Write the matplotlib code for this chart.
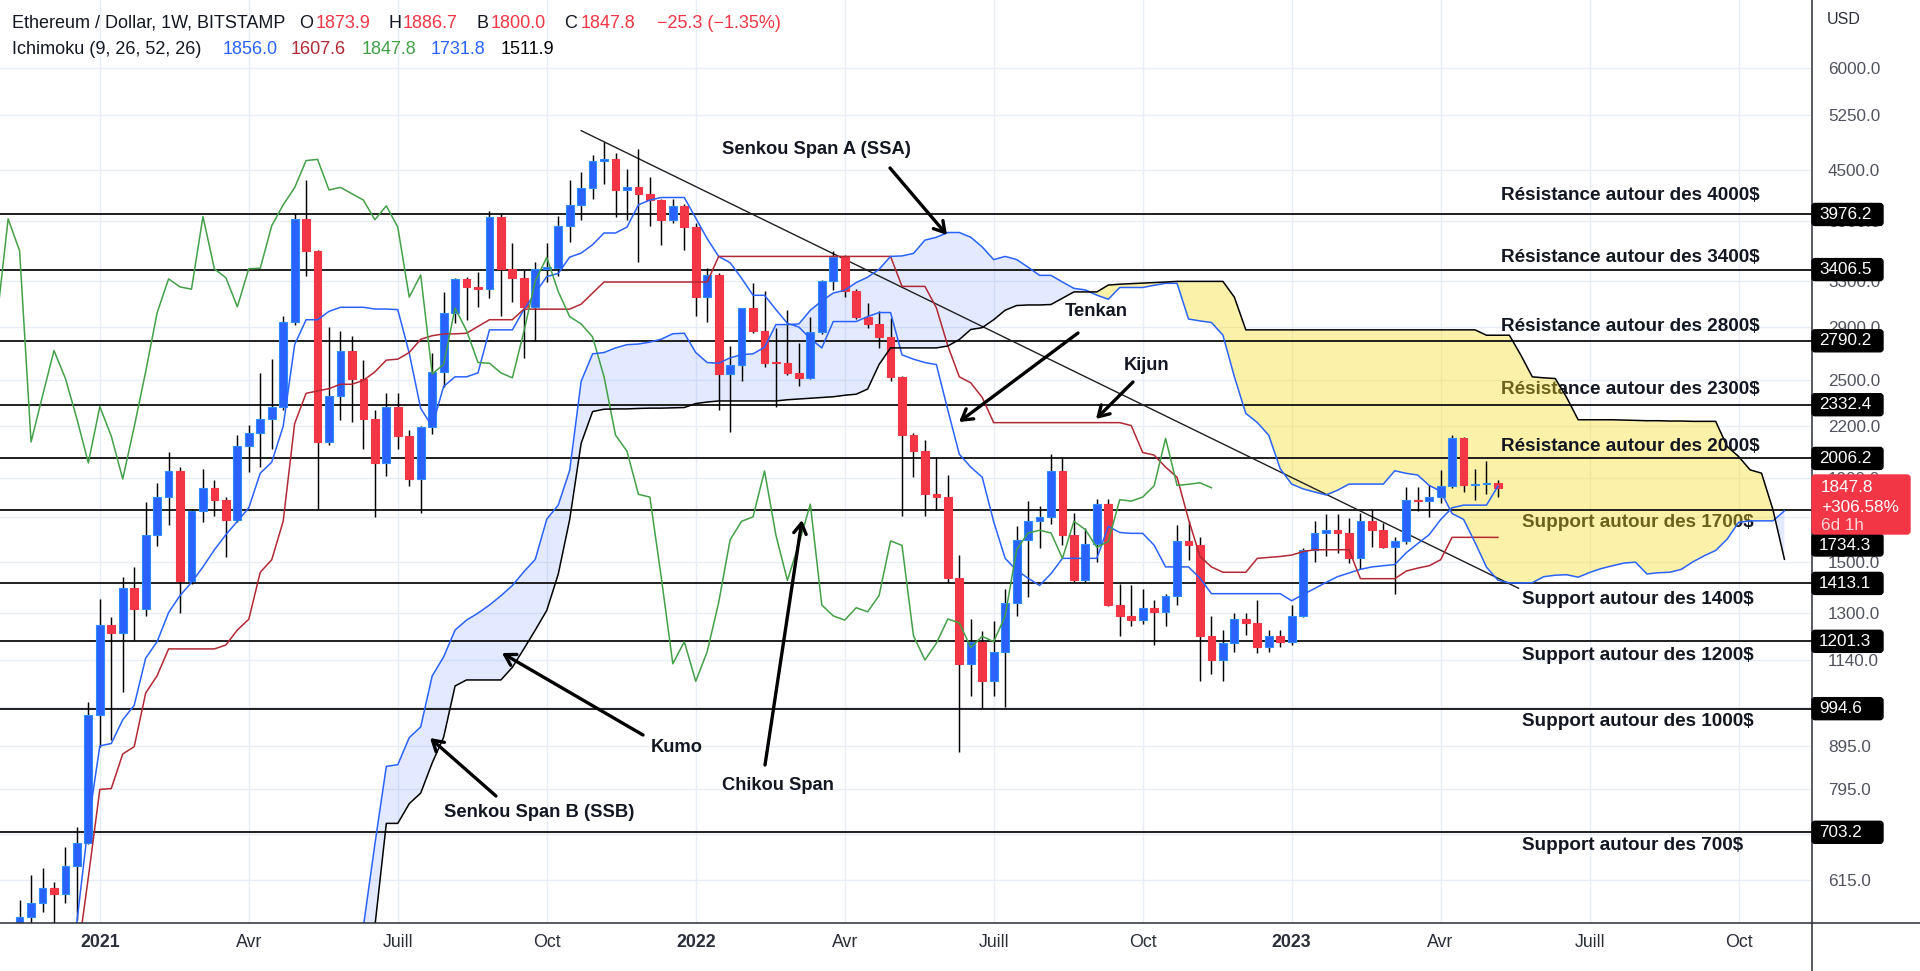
import numpy as np
import pandas as pd
import matplotlib
matplotlib.use('Agg')
import matplotlib.pyplot as plt
from matplotlib import transforms
from matplotlib.patches import FancyBboxPatch
from matplotlib.lines import Line2D
from matplotlib.ticker import FixedLocator, NullLocator, FixedFormatter

plt.rcParams['font.family'] = ['Liberation Sans', 'DejaVu Sans']

W, H = 1920, 971
START = pd.Timestamp('2020-11-16')   # first weekly candle on screen

# ---------------- weekly OHLC (ETH/USD, BITSTAMP, 1W) ----------------
OPEN = [460, 555, 577, 601, 591, 639, 682, 977, 1257, 1230,
        1395, 1315, 1620, 1803, 1937, 1423, 1729, 1848, 1787, 1690,
        2075, 2155, 2242, 2318, 2944, 3928, 3590, 2101, 2391, 2715,
        2510, 2242, 1981, 2320, 2136, 1894, 2192, 2558, 3018, 3319,
        3245, 3225, 3953, 3413, 3330, 3069, 3415, 3420, 3852, 4085,
        4287, 4625, 4640, 4259, 4290, 4214, 4140, 3918, 4073, 3838,
        3154, 3356, 2543, 2610, 3058, 2871, 2625, 2620, 2550, 2515,
        2863, 3300, 3525, 3204, 2986, 2925, 2820, 2522, 2142, 2047,
        1814, 1800, 1434, 1128, 1200, 1074, 1167, 1339, 1597, 1682,
        1703, 1937, 1617, 1425, 1579, 1765, 1330, 1290, 1275, 1320,
        1305, 1366, 1592, 1572, 1220, 1140, 1195, 1279, 1265, 1181,
        1218, 1200, 1290, 1553, 1628, 1640, 1628, 1516, 1682, 1643,
        1563, 1590, 1787, 1780, 1800, 1858, 2122, 1860, 1866, 1873.9]
HIGH = [582, 624, 636, 612, 675, 714, 1014, 1353, 1286, 1439,
        1480, 1773, 1874, 2040, 1960, 1740, 1945, 1889, 1800, 2140,
        2205, 2550, 2652, 2990, 3995, 4380, 3600, 2900, 2870, 2830,
        2643, 2300, 2408, 2410, 2175, 2200, 2700, 3195, 3330, 3340,
        3387, 4020, 3990, 3675, 3400, 3480, 3675, 3963, 4380, 4480,
        4700, 4878, 4730, 4520, 4780, 4420, 4150, 4150, 4100, 3880,
        3420, 3370, 2750, 3060, 3280, 3205, 2890, 3045, 2775, 2986,
        3310, 3586, 3550, 3225, 3100, 3030, 2975, 2530, 2155, 2110,
        2017, 1915, 1530, 1280, 1235, 1270, 1390, 1660, 1780, 1755,
        2030, 2017, 1720, 1650, 1790, 1790, 1410, 1406, 1390, 1350,
        1372, 1664, 1682, 1610, 1290, 1240, 1300, 1300, 1350, 1240,
        1240, 1330, 1560, 1682, 1715, 1715, 1697, 1720, 1740, 1675,
        1610, 1853, 1853, 1862, 1943, 2140, 2130, 1945, 1992, 1886.7]
LOW = [445, 480, 562, 530, 577, 550, 680, 894, 911, 1043,
       1206, 1290, 1568, 1666, 1300, 1410, 1680, 1709, 1522, 1680,
       1933, 1960, 2060, 2300, 2920, 3347, 1739, 2085, 2235, 2220,
       2060, 1700, 1910, 2060, 1855, 1720, 2150, 2450, 2930, 2960,
       3070, 3150, 2990, 3115, 2662, 2792, 3290, 3350, 3680, 3920,
       4150, 4330, 3950, 3920, 3478, 3850, 3650, 3880, 3600, 2995,
       2945, 2300, 2160, 2490, 2850, 2590, 2320, 2535, 2455, 2510,
       2840, 3220, 3155, 2965, 2890, 2735, 2495, 1706, 1906, 1706,
       1737, 1420, 882, 1030, 997, 1030, 1000, 1290, 1360, 1560,
       1670, 1573, 1420, 1420, 1500, 1325, 1218, 1255, 1260, 1190,
       1255, 1330, 1508, 1075, 1095, 1075, 1165, 1222, 1162, 1165,
       1181, 1190, 1285, 1500, 1525, 1540, 1495, 1470, 1563, 1560,
       1373, 1580, 1730, 1700, 1770, 1849, 1827, 1787, 1814, 1800.0]
CLOSE = [555, 577, 601, 591, 639, 682, 977, 1257, 1230, 1395,
         1315, 1620, 1803, 1937, 1423, 1729, 1848, 1787, 1690, 2075,
         2155, 2242, 2318, 2944, 3928, 3590, 2101, 2391, 2715, 2510,
         2242, 1981, 2320, 2136, 1894, 2192, 2558, 3018, 3319, 3245,
         3225, 3953, 3413, 3330, 3069, 3415, 3420, 3852, 4085, 4287,
         4625, 4640, 4259, 4290, 4214, 4140, 3918, 4073, 3838, 3154,
         3356, 2543, 2610, 3058, 2871, 2625, 2620, 2550, 2515, 2863,
         3300, 3525, 3204, 2986, 2925, 2820, 2522, 2142, 2047, 1814,
         1800, 1434, 1128, 1200, 1074, 1167, 1339, 1597, 1682, 1703,
         1937, 1617, 1425, 1579, 1765, 1330, 1290, 1275, 1320, 1305,
         1366, 1592, 1572, 1220, 1140, 1195, 1279, 1265, 1181, 1218,
         1200, 1290, 1553, 1628, 1640, 1628, 1516, 1682, 1643, 1563,
         1590, 1787, 1780, 1800, 1858, 2122, 1860, 1866, 1873.9, 1847.8]

# ---------------- Ichimoku lines (weekly) ----------------
TENKAN_START = 4
TENKAN = [480, 547, 720, 896, 902, 964, 1004, 1146, 1200, 1302,
          1366, 1417, 1480, 1553, 1620, 1682, 1747, 1925, 1985, 2195,
          2760, 2960, 2960, 3030, 3065, 3065, 3065, 3050, 3050, 3045,
          2695, 2308, 2195, 2455, 2522, 2522, 2550, 2877, 2877, 2877,
          3045, 3190, 3340, 3370, 3528, 3568, 3653, 3775, 3775, 3838,
          4085, 4140, 4170, 4170, 4170, 3936, 3715, 3535, 3473, 3325,
          3170, 3170, 3045, 2930, 2900, 2807, 2735, 2945, 2945, 2945,
          2986, 3020, 3020, 2682, 2650, 2625, 2610, 2297, 2030, 1958,
          1903, 1680, 1516, 1466, 1434, 1405, 1452, 1516, 1516, 1516,
          1516, 1658, 1630, 1626, 1626, 1573, 1480, 1480, 1480, 1434,
          1373, 1373, 1373, 1373, 1373, 1373, 1373, 1346, 1370, 1393,
          1417, 1440, 1455, 1470, 1480, 1485, 1490, 1540, 1580, 1620,
          1690, 1747, 1760, 1760, 1760, 1856.0]
KIJUN_START = 5
KIJUN = [490, 620, 793, 795, 876, 894, 1039, 1091, 1176, 1176,
         1176, 1176, 1176, 1189, 1240, 1278, 1458, 1510, 1682, 2212,
         2408, 2424, 2440, 2470, 2470, 2497, 2557, 2643, 2650, 2700,
         2802, 2830, 2845, 2845, 2850, 2905, 2960, 2960, 2960, 3049,
         3049, 3049, 3049, 3049, 3092, 3190, 3290, 3290, 3290, 3290,
         3290, 3290, 3290, 3290, 3290, 3290, 3535, 3535, 3535, 3535,
         3535, 3535, 3535, 3535, 3535, 3535, 3535, 3535, 3535, 3535,
         3535, 3535, 3250, 3250, 3250, 3060, 2750, 2522, 2480, 2380,
         2218, 2218, 2218, 2218, 2218, 2218, 2218, 2218, 2218, 2218,
         2218, 2218, 2200, 2040, 2025, 1958, 1903, 1691, 1524, 1480,
         1458, 1458, 1458, 1516, 1520, 1524, 1530, 1545, 1553, 1553,
         1553, 1553, 1432, 1432, 1432, 1432, 1463, 1475, 1485, 1510,
         1608, 1608, 1608, 1608, 1607.6]
CLOUD_START = 30
SSA = [540, 680, 846, 850, 917, 945, 1090, 1150, 1240, 1275,
       1300, 1330, 1365, 1405, 1460, 1512, 1692, 1760, 1940, 2490,
       2690, 2700, 2735, 2760, 2765, 2780, 2803, 2846, 2850, 2700,
       2625, 2620, 2660, 2684, 2690, 2740, 2920, 2920, 2925, 3040,
       3120, 3190, 3215, 3285, 3335, 3410, 3535, 3540, 3565, 3700,
       3730, 3780, 3780, 3730, 3630, 3503, 3535, 3504, 3430, 3352,
       3352, 3290, 3232, 3218, 3171, 3135, 3240, 3240, 3240, 3260,
       3278, 3278, 2966, 2950, 2937, 2835, 2523, 2276, 2219, 2141,
       1949, 1867, 1842, 1826, 1811, 1835, 1867, 1867, 1867, 1867,
       1938, 1924, 1915, 1860, 1830, 1719, 1691, 1585, 1479, 1426,
       1415, 1415, 1416, 1440, 1446, 1448, 1438, 1457, 1473, 1485,
       1496, 1500, 1451, 1456, 1458, 1470, 1501, 1527, 1550, 1600,
       1677, 1684, 1684, 1684, 1731.8]
SSB = [480, 540, 721, 721, 762, 785, 854, 918, 1060, 1078,
       1078, 1078, 1078, 1117, 1176, 1240, 1310, 1450, 1690, 2093,
       2288, 2303, 2305, 2305, 2308, 2310, 2310, 2312, 2314, 2340,
       2350, 2357, 2357, 2357, 2357, 2357, 2357, 2365, 2370, 2375,
       2380, 2385, 2395, 2402, 2437, 2611, 2735, 2735, 2735, 2735,
       2735, 2750, 2800, 2880, 2895, 2960, 3040, 3080, 3085, 3085,
       3089, 3144, 3200, 3200, 3200, 3262, 3270, 3275, 3280, 3285,
       3290, 3296, 3296, 3296, 3296, 3296, 3153, 2877, 2877, 2877,
       2877, 2877, 2877, 2877, 2877, 2877, 2877, 2877, 2877, 2877,
       2877, 2877, 2877, 2877, 2877, 2877, 2877, 2877, 2834, 2834,
       2834, 2680, 2522, 2515, 2510, 2380, 2236, 2236, 2236, 2236,
       2234, 2232, 2230, 2230, 2228, 2228, 2226, 2226, 2226, 2075,
       2017, 1943, 1925, 1737, 1511.9]
CHIKOU_SHIFT = 25
CHIKOU_FROM = 23

# ---------------- drawings ----------------
LEVELS = [3976.2, 3406.5, 2790.2, 2332.4, 2006.2, 1734.3, 1413.1, 1201.3, 994.6, 703.2]
LABEL_NUDGE = {1734.3: 545}      # axis label pushed below the last-price tag (pixel y)
TREND_X = [49.0, 130.8]          # week index
TREND_Y = [5030, 1394]
YTICKS = [6000, 5250, 4500, 3900, 3300, 2900, 2500, 2200, 1900, 1700,
          1500, 1300, 1140, 1000, 895, 795, 700, 615]
YTICK_HIDDEN = [1700, 700]       # fully covered by tags in the reference
XTICK_DATES = ['2021-01-04', '2021-04-05', '2021-07-05', '2021-10-04',
               '2022-01-03', '2022-04-04', '2022-07-04', '2022-10-03',
               '2023-01-02', '2023-04-03', '2023-07-03', '2023-10-02']
XTICK_LABELS = ['2021', 'Avr', 'Juill', 'Oct', '2022', 'Avr', 'Juill', 'Oct',
                '2023', 'Avr', 'Juill', 'Oct']
SR_TEXTS = ['Résistance autour des 4000$', 'Résistance autour des 3400$',
            'Résistance autour des 2800$', 'Résistance autour des 2300$',
            'Résistance autour des 2000$', 'Support autour des 1700$',
            'Support autour des 1400$', 'Support autour des 1200$',
            'Support autour des 1000$', 'Support autour des 700$']
SR_POS = [(1501, 196), (1501, 257), (1501, 326), (1501, 389), (1501, 446),
          (1522, 522), (1522, 599), (1522, 655), (1522, 721), (1522, 845)]
SR_UNDER = [False, False, False, True, False, True, False, False, False, False]
ANNOTS = [("Senkou Span A (SSA)", (816, 150), (890, 168), (947, 235)),
          ("Tenkan", (1096, 311), (1078, 333), (959, 422)),
          ("Kijun", (1147, 365), (1133, 382), (1096, 419)),
          ("Kumo", (677, 747), (643, 735), (502, 653)),
          ("Chikou Span", (778, 786), (765, 765), (802, 520)),
          ("Senkou Span B (SSB)", (539, 812), (496, 796), (430, 738))]

# colours
UP, DOWN = '#2962ff', '#f23645'
C_TENKAN, C_KIJUN, C_CHIKOU, C_SSA, C_SSB = '#2962ff', '#b22833', '#43a047', '#2962ff', '#000000'

# ---------------- figure ----------------
fig = plt.figure(figsize=(W / 100, H / 100), dpi=100)
fig.patch.set_facecolor('white')
ax = fig.add_axes([0, 48 / H, 1812 / W, 923 / H])
ax.set_facecolor('white')
ax.set_yscale('log')
ax.set_xlim(-19.6 / 11.46, (1812 - 19.6) / 11.46)
ax.set_ylim(545.3, 7255)
for s in ax.spines.values():
    s.set_visible(False)


def wk(d):
    return (pd.Timestamp(d) - START).days / 7.0


xt = [wk(d) for d in XTICK_DATES]
ax.yaxis.set_major_locator(FixedLocator(YTICKS))
ax.yaxis.set_minor_locator(NullLocator())
ax.yaxis.set_major_formatter(FixedFormatter(
    ['' if v in YTICK_HIDDEN else f'{v:.1f}' for v in YTICKS]))
ax.yaxis.tick_right()
ax.tick_params(axis='y', length=0, pad=11.5, labelsize=12.3, labelcolor='#50535e')
ax.set_xticks(xt)
ax.tick_params(axis='x', length=0, labelbottom=False)
ax.grid(True, color='#e8edf5', lw=1.0)
ax.set_axisbelow(True)

# cloud
cx = CLOUD_START + np.arange(len(SSA))
ssa = np.array(SSA, float)
ssb = np.array(SSB, float)
ax.fill_between(cx, ssa, ssb, where=ssa >= ssb, interpolate=True,
                color='#2962ff', alpha=0.13, lw=0, zorder=1)
ax.fill_between(cx, ssa, ssb, where=ssa < ssb, interpolate=True,
                color='#f9dc1a', alpha=0.38, lw=0, zorder=1)

# support / resistance lines and trend line
for v in LEVELS:
    ax.axhline(v, color='#1f1f1f', lw=1.4, zorder=1.5)
ax.plot(TREND_X, TREND_Y, color='#1f1f1f', lw=1.0, zorder=1.6)

# candles
o = np.array(OPEN, float); h = np.array(HIGH, float)
l = np.array(LOW, float); c = np.array(CLOSE, float)
x = np.arange(len(o))
up = c >= o
ax.vlines(x, l, h, color='#000000', lw=1.05, zorder=3)
bb = np.minimum(o, c)
bh = np.maximum(np.abs(c - o), 0.004 * c)
ax.bar(x[up], bh[up], bottom=bb[up], width=0.68, color=UP, edgecolor='#2f8cff', lw=0.8, zorder=4)
ax.bar(x[~up], bh[~up], bottom=bb[~up], width=0.68, color=DOWN, edgecolor=DOWN, lw=0.8, zorder=4)

# ichimoku lines
ax.plot(TENKAN_START + np.arange(len(TENKAN)), TENKAN, color=C_TENKAN, lw=1.1, zorder=5)
ax.plot(KIJUN_START + np.arange(len(KIJUN)), KIJUN, color=C_KIJUN, lw=1.1, zorder=5)
ax.plot(x[CHIKOU_FROM:] - CHIKOU_SHIFT, c[CHIKOU_FROM:], color=C_CHIKOU, lw=1.1, zorder=5)
ax.plot(cx, ssa, color=C_SSA, lw=1.1, zorder=5)
ax.plot(cx, ssb, color=C_SSB, lw=1.1, zorder=5)


def ff(px, py):
    return px / W, 1 - py / H


# support/resistance labels
for txt, (px, py), under in zip(SR_TEXTS, SR_POS, SR_UNDER):
    ax.text(*ff(px, py), txt, transform=fig.transFigure, ha='left', va='center',
            fontsize=13.6, fontweight='bold', color='#131722',
            zorder=0.9 if under else 8, clip_on=False)

# annotations with arrows
for txt, tpos, a0, a1 in ANNOTS:
    ax.text(*ff(*tpos), txt, transform=fig.transFigure, ha='center', va='center',
            fontsize=13.2, fontweight='bold', color='#131722', zorder=8)
    ax.annotate('', xy=ff(*a1), xytext=ff(*a0), xycoords='figure fraction',
                textcoords='figure fraction',
                arrowprops=dict(arrowstyle='->,head_length=0.75,head_width=0.45',
                                color='black', lw=2.4, shrinkA=0, shrinkB=0),
                zorder=8)

# axis frame lines
fig.add_artist(Line2D([0, 1], [1 - 923 / H] * 2, transform=fig.transFigure,
                      color='#2a2e39', lw=1.1))
fig.add_artist(Line2D([1812 / W] * 2, [0, 1], transform=fig.transFigure,
                      color='#2a2e39', lw=1.1))

# x labels
for xv, lab in zip(xt, XTICK_LABELS):
    px = ax.transData.transform((xv, 1000))[0]
    bold = lab.isdigit()
    fig.text(px / W, 1 - 942 / H, lab, ha='center', va='center', fontsize=12.8,
             fontweight='bold' if bold else 'normal', color='#2a2e39')

fig.text(1827 / W, 1 - 20 / H, 'USD', ha='left', va='center', fontsize=11.5, color='#2a2e39')

# right-axis level labels (black boxes)
idt = transforms.IdentityTransform()
for v in LEVELS:
    if v in LABEL_NUDGE:
        py = H - LABEL_NUDGE[v]
    else:
        py = ax.transData.transform((0, v))[1]
    fig.add_artist(FancyBboxPatch((1812, py - 11), 71, 22,
                                  boxstyle='round,pad=0,rounding_size=3',
                                  fc='#000000', ec='#000000', transform=idt, zorder=5))
    fig.text(1819 / W, py / H, f'{v:.1f}', ha='left', va='center', fontsize=12.3,
             color='white', zorder=6)

# last price red label
fig.add_artist(FancyBboxPatch((1812, H - 534), 98, 59,
                              boxstyle='round,pad=0,rounding_size=3',
                              fc='#f23645', ec='#f23645', transform=idt, zorder=5))
fig.text(*ff(1821, 488), '1847.8', ha='left', va='center', fontsize=12.3, color='white', zorder=6)
fig.text(*ff(1821, 507), '+306.58%', ha='left', va='center', fontsize=12.3, color='white', zorder=6)
fig.text(*ff(1821, 525), '6d 1h', ha='left', va='center', fontsize=12.3, color='#ffd6d9', zorder=6)

# header legend
RED_T = '#f23645'
DARK = '#131722'
hdr1 = [(12, 'Ethereum / Dollar, 1W, BITSTAMP', DARK), (299, 'O', DARK), (316, '1873.9', RED_T),
        (388, 'H', DARK), (403, '1886.7', RED_T), (476, 'B', DARK), (491, '1800.0', RED_T),
        (564, 'C', DARK), (581, '1847.8', RED_T), (657, '\u221225.3 (\u22121.35%)', RED_T)]
for px, s, col in hdr1:
    fig.text(*ff(px, 23), s, ha='left', va='center', fontsize=13.0, color=col)
hdr2 = [(12, 'Ichimoku (9, 26, 52, 26)', DARK), (223, '1856.0', C_TENKAN), (291, '1607.6', C_KIJUN),
        (362, '1847.8', C_CHIKOU), (431, '1731.8', C_SSA), (501, '1511.9', '#000000')]
for px, s, col in hdr2:
    fig.text(*ff(px, 49), s, ha='left', va='center', fontsize=13.0, color=col)

fig.savefig('out.png', dpi=100, facecolor='white')
